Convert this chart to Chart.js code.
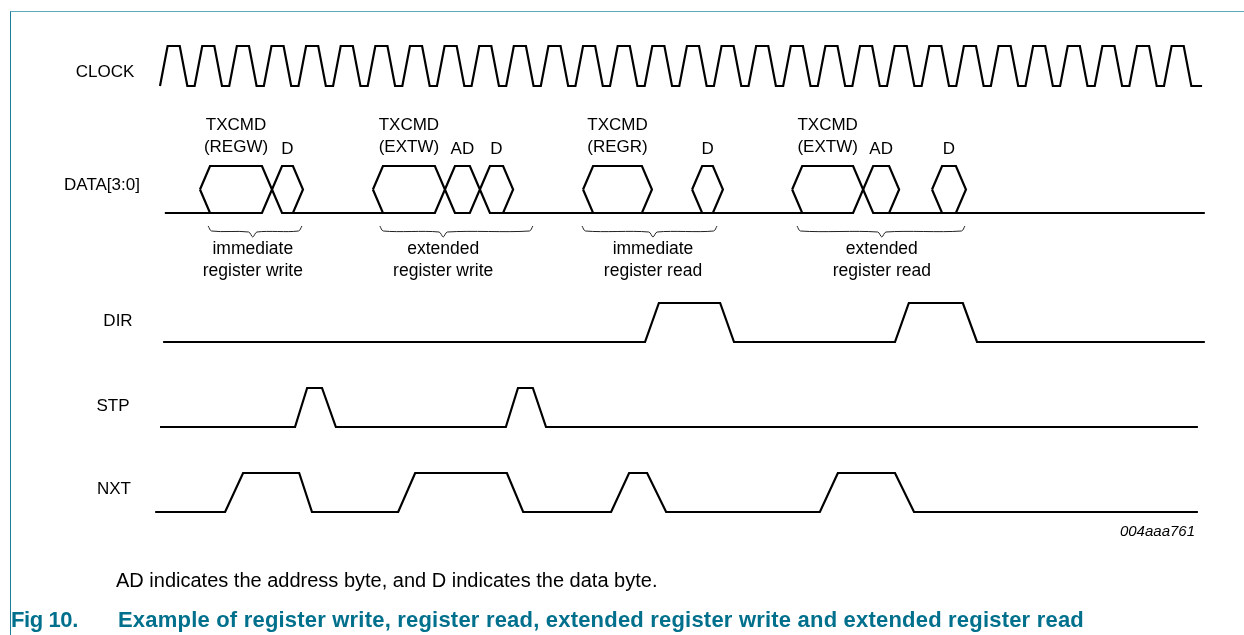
<!DOCTYPE html>
<html>
<head>
<meta charset="utf-8">
<script src="https://cdn.jsdelivr.net/npm/chart.js@4.4.1/dist/chart.umd.min.js"></script>
<style>
  html, body { margin: 0; padding: 0; background: #fff; }
  #wrap { position: relative; width: 1244px; height: 635px; overflow: hidden;
          font-family: "Liberation Sans", Arial, sans-serif; }
  #frame { position: absolute; left: 10px; top: 11px; right: -2px; bottom: -2px;
           border-top: 1px solid #5fa7bb; border-left: 1px solid #1e7d98; }
  canvas { position: absolute; left: 0; top: 0; }
  .note { position: absolute; left: 116px; top: 570px; font-size: 20px; line-height: 1; color: #000; white-space: pre; }
  .cap { position: absolute; top: 609px; font-size: 22px; line-height: 1; font-weight: bold; color: #00708c; white-space: pre; }
</style>
</head>
<body>
<div id="wrap">
  <div id="frame"></div>
  <canvas id="timing" width="1244" height="635"></canvas>
  <div class="note">AD indicates the address byte, and D indicates the data byte.</div>
  <div class="cap" style="left:11px; letter-spacing:-0.4px">Fig 10.</div>
  <div class="cap" style="left:118px; letter-spacing:0.2px">Example of register write, register read, extended register write and extended register read</div>
</div>
<script>
// time unit = one clock cycle, level 0 = low, 1 = high
const signalNames = ["CLOCK", "DATA[3:0]", "DIR", "STP", "NXT"];

const clockRise = [0, 1, 2, 3, 4, 5, 6, 7, 8, 9, 10, 11, 12, 13, 14,
                   15, 16, 17, 18, 19, 20, 21, 22, 23, 24, 25, 26, 27, 28, 29];
const clockEnd = 30.1;

const dirPoints = [[0.09, 0], [14.01, 0], [14.41, 1], [16.18, 1], [16.58, 0],
                   [21.23, 0], [21.63, 1], [23.19, 1], [23.60, 0], [30.18, 0]];
const stpPoints = [[0, 0], [3.90, 0], [4.25, 1], [4.68, 1], [5.08, 0],
                   [9.99, 0], [10.34, 1], [10.77, 1], [11.15, 0], [29.98, 0]];
const nxtPoints = [[-0.14, 0], [1.88, 0], [2.40, 1], [4.02, 1], [4.39, 0],
                   [6.88, 0], [7.37, 1], [10.02, 1], [10.49, 0],
                   [13.03, 0], [13.55, 1], [14.07, 1], [14.62, 0],
                   [19.06, 0], [19.58, 1], [21.23, 1], [21.78, 0], [29.98, 0]];

// bytes on the DATA bus
const hexStart = [1.155, 3.235, 6.15, 8.23, 9.24, 12.22, 15.37, 18.26, 20.31, 22.30];
const hexEnd   = [3.235, 4.13, 8.23, 9.24, 10.20, 14.21, 16.26, 20.31, 21.35, 23.28];
const hexLabel = [["TXCMD", "(REGW)"], ["D"], ["TXCMD", "(EXTW)"], ["AD"], ["D"],
                  ["TXCMD", "(REGR)"], ["D"], ["TXCMD", "(EXTW)"], ["AD"], ["D"]];
const busStart = 0.14, busEnd = 30.18;

// braces under the transactions
const braceStart = [1.39, 6.35, 12.19, 18.40];
const braceMid   = [2.68, 8.18, 14.24, 20.85];
const braceEnd   = [4.10, 10.77, 16.09, 23.25];
const braceLabel = [["immediate", "register write"], ["extended", "register write"],
                    ["immediate", "register read"], ["extended", "register read"]];

// ---- layout (pixels) ----
const CYCLE = 34.62, X0 = 160;
const lanes = {
  clock: { low: 86, high: 46 },
  data:  { low: 213, high: 166 },
  dir:   { low: 342, high: 303 },
  stp:   { low: 427, high: 388 },
  nxt:   { low: 512, high: 473 },
};
const laneLabelPos = [[105, 72], [102, 185], [118, 321], [113, 406], [114, 489]];
const SLOPE = 0.29;

const lvl = (lane, v) => lane.low - v * (lane.low - lane.high);
const toPts = (arr, lane) => arr.map(([t, v]) => ({ x: t, y: lvl(lane, v) }));

const line = (data, extra = {}) => ({
  data, showLine: true, borderColor: "#000", borderWidth: 2.2, pointRadius: 0,
  fill: false, tension: 0, spanGaps: false, ...extra,
});

const datasets = [];

// clock
const clk = [];
clockRise.forEach(k => {
  clk.push({ x: k, y: lvl(lanes.clock, 0) }, { x: k + 0.22, y: lvl(lanes.clock, 1) },
           { x: k + 0.57, y: lvl(lanes.clock, 1) }, { x: k + 0.79, y: lvl(lanes.clock, 0) });
});
clk.push({ x: clockEnd, y: lvl(lanes.clock, 0) });
datasets.push(line(clk));

// data bus hexes
const mid = (lanes.data.low + lanes.data.high) / 2;
hexStart.forEach((l, i) => {
  const r = hexEnd[i];
  datasets.push(line([
    { x: l, y: mid }, { x: l + SLOPE, y: lanes.data.high }, { x: r - SLOPE, y: lanes.data.high },
    { x: r, y: mid }, { x: r - SLOPE, y: lanes.data.low }, { x: l + SLOPE, y: lanes.data.low },
    { x: l, y: mid },
  ]));
});

// idle bus line between groups
const base = [];
let cur = busStart;
hexStart.forEach((l, i) => {
  if (i > 0 && l === hexEnd[i - 1]) { cur = hexEnd[i] - SLOPE; return; }
  base.push({ x: cur, y: lanes.data.low }, { x: l + SLOPE, y: lanes.data.low }, { x: l + SLOPE, y: null });
  cur = hexEnd[i] - SLOPE;
});
base.push({ x: cur, y: lanes.data.low }, { x: busEnd, y: lanes.data.low });
datasets.push(line(base));

// braces
braceStart.forEach((s, i) => {
  const m = braceMid[i], e = braceEnd[i];
  datasets.push(line([
    { x: s, y: 226 }, { x: s + 0.1, y: 231 }, { x: m - 0.12, y: 232 }, { x: m, y: 237 },
    { x: m + 0.12, y: 232 }, { x: e - 0.1, y: 231 }, { x: e, y: 226 },
  ], { borderWidth: 1, tension: 0.3, borderColor: "#222" }));
});

datasets.push(line(toPts(dirPoints, lanes.dir)));
datasets.push(line(toPts(stpPoints, lanes.stp)));
datasets.push(line(toPts(nxtPoints, lanes.nxt)));

// text drawn on the diagram
const labelPlugin = {
  id: "labels",
  afterDatasetsDraw(chart) {
    const { ctx, scales: { x } } = chart;
    ctx.save();
    ctx.fillStyle = "#000";
    ctx.textAlign = "center";
    ctx.textBaseline = "middle";
    ctx.font = '17px "Liberation Sans", Arial, sans-serif';

    signalNames.forEach((n, i) => ctx.fillText(n, laneLabelPos[i][0], laneLabelPos[i][1]));

    hexLabel.forEach((lab, i) => {
      const cx = x.getPixelForValue((hexStart[i] + hexEnd[i]) / 2);
      if (lab.length === 2) {
        ctx.fillText(lab[0], cx, 125);
        ctx.fillText(lab[1], cx, 147);
      } else {
        ctx.fillText(lab[0], cx, 149);
      }
    });

    ctx.font = '17.5px "Liberation Sans", Arial, sans-serif';
    braceLabel.forEach((lab, i) => {
      const cx = x.getPixelForValue(braceMid[i]);
      ctx.fillText(lab[0], cx, 249);
      ctx.fillText(lab[1], cx, 271);
    });

    ctx.font = 'italic 15px "Liberation Sans", Arial, sans-serif';
    ctx.textAlign = "right";
    ctx.fillText("004aaa761", 1195, 532);
    ctx.restore();
  },
};

new Chart("timing", {
  type: "scatter",
  data: { datasets },
  options: {
    responsive: false,
    animation: false,
    devicePixelRatio: 1,
    layout: { padding: 0 },
    plugins: { legend: { display: false }, tooltip: { enabled: false } },
    scales: {
      x: { type: "linear", display: false, min: -X0 / CYCLE, max: (1244 - X0) / CYCLE },
      y: { type: "linear", display: false, min: 0, max: 635, reverse: true },
    },
  },
  plugins: [labelPlugin],
});
</script>
</body>
</html>
